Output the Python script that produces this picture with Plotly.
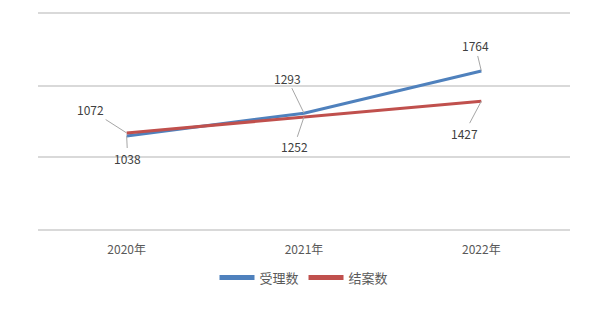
import plotly.graph_objects as go

categories = ["2020年", "2021年", "2022年"]
accepted = [1038, 1293, 1764]
closed = [1072, 1252, 1427]
series_names = ["受理数", "结案数"]

# label offsets (pixels) for data labels with leader lines
acc_offsets = [(1, 22), (-17, -35), (-6, -25)]
clo_offsets = [(-36, -23), (-10, 30), (-17, 32)]

BLUE = "#4F81BD"
RED = "#C0504D"
FONT = "Noto Sans CJK SC, Liberation Sans, sans-serif"

fig = go.Figure()
fig.add_trace(go.Scatter(x=categories, y=accepted, mode="lines", name=series_names[0],
                         line=dict(color=BLUE, width=3)))
fig.add_trace(go.Scatter(x=categories, y=closed, mode="lines", name=series_names[1],
                         line=dict(color=RED, width=3)))

annotations = []
for cat, v, (ax, ay) in zip(categories, accepted, acc_offsets):
    annotations.append(dict(x=cat, y=v, text=str(v), showarrow=True, arrowhead=0,
                            arrowwidth=1, arrowcolor="#A6A6A6", ax=ax, ay=ay,
                            font=dict(size=12, color="#404040", family=FONT)))
for cat, v, (ax, ay) in zip(categories, closed, clo_offsets):
    annotations.append(dict(x=cat, y=v, text=str(v), showarrow=True, arrowhead=0,
                            arrowwidth=1, arrowcolor="#A6A6A6", ax=ax, ay=ay,
                            font=dict(size=12, color="#404040", family=FONT)))

fig.update_layout(
    width=600, height=315,
    margin=dict(l=38, r=30, t=12, b=86),
    paper_bgcolor="white", plot_bgcolor="white",
    font=dict(family=FONT, size=12, color="#595959"),
    showlegend=True,
    legend=dict(orientation="h", x=0.5, xanchor="center", y=-0.226, yanchor="middle",
                font=dict(size=13, color="#595959"), itemwidth=35,
                tracegroupgap=0, itemsizing="constant"),
    annotations=annotations,
)
fig.update_xaxes(type="category", range=[-0.5, 2.5], showgrid=False, zeroline=False,
                 showline=True, mirror=True, linecolor="#D9D9D9", linewidth=1.5,
                 ticks="outside", ticklen=9, tickcolor="rgba(0,0,0,0)",
                 tickfont=dict(size=12, color="#595959"))
fig.update_yaxes(range=[0, 2400], dtick=800, showgrid=True, gridcolor="#D9D9D9",
                 gridwidth=1.5, zeroline=False, showline=False, showticklabels=False)

fig.write_html("out.html")
